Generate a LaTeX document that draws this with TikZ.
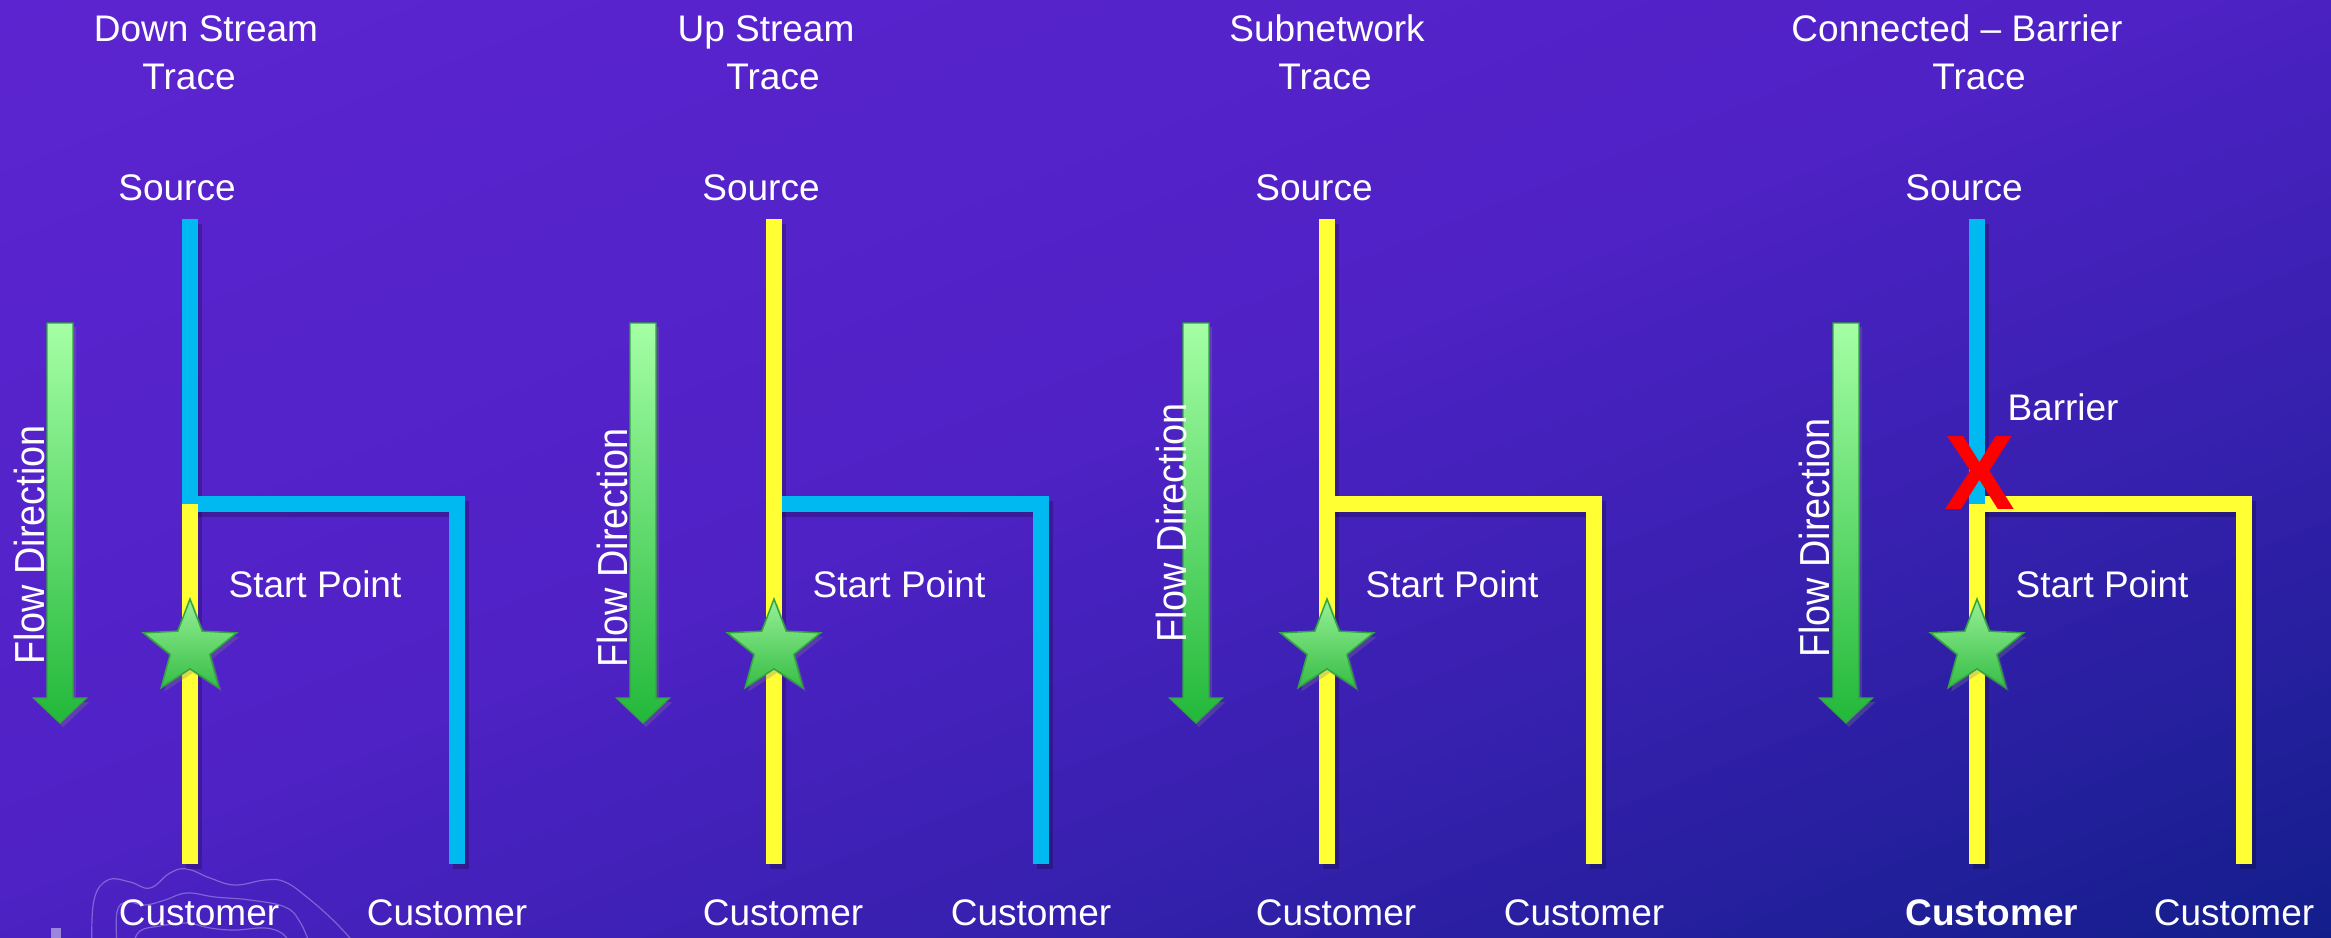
\documentclass[tikz,border=0pt]{standalone}
\usepackage{fontspec}
\usepackage{graphicx}
\setmainfont{Liberation Sans}
\usetikzlibrary{shapes.geometric,shadows}
\definecolor{bgA}{RGB}{92,36,208}
\definecolor{bgB}{RGB}{80,34,198}
\definecolor{bgC}{RGB}{55,32,175}
\definecolor{bgD}{RGB}{18,30,138}
\definecolor{lnblue}{RGB}{0,185,240}
\definecolor{lnyellow}{RGB}{255,255,51}
\definecolor{gtop}{RGB}{165,255,165}
\definecolor{gbot}{RGB}{34,184,58}
\definecolor{gedge}{RGB}{50,165,65}
\definecolor{stop}{RGB}{150,240,150}
\definecolor{sbot}{RGB}{55,190,70}
\newcommand{\bgseg}[5]{%
  \foreach \k in {1,...,#3}{%
    \pgfmathsetmacro{\ua}{#1+((\k-1)/#3)*(#2-#1)-1.5}%
    \pgfmathsetmacro{\ub}{#1+(\k/#3)*(#2-#1)+1.5}%
    \pgfmathtruncatemacro{\pc}{(\k-0.5)/#3*100}%
    \fill[#5!\pc!#4] ({\ua*0.375-2410},{\ua*0.927+975}) -- ({\ua*0.375+2410},{\ua*0.927-975}) -- ({\ub*0.375+2410},{\ub*0.927-975}) -- ({\ub*0.375-2410},{\ub*0.927+975}) -- cycle;
  }}
\tikzset{
  pipe/.style={line width=16pt, line join=miter, line cap=butt},
  pshadow/.style={line width=16pt, line join=miter, draw=black, opacity=.22, transform canvas={xshift=4pt, yshift=-5pt}},
  lbl/.style={text=white, font=\fontsize{37}{44}\selectfont, inner sep=0pt, anchor=base},
  flowtxt/.style={text=white, font=\fontsize{42}{44}\selectfont, inner sep=0pt, anchor=base, rotate=90},
  starnode/.style={star, star points=5, star point ratio=2.35, minimum size=98pt, inner sep=0pt,
    top color=stop, bottom color=sbot, draw=gedge, line width=1.5pt,
    drop shadow={opacity=.3, shadow xshift=3pt, shadow yshift=-4pt}},
  flowarrow/.style={top color=gtop, bottom color=gbot, draw=gedge, line width=1.2pt,
    drop shadow={opacity=.3, shadow xshift=3pt, shadow yshift=-4pt}},
  contour/.style={draw=white, opacity=.3, line width=1.2pt}
}
\begin{document}
\begin{tikzpicture}[x=1pt,y=-1pt]
\useasboundingbox (0,0) rectangle (2331,937);
% background
\begin{scope}
\clip (0,0) rectangle (2331,937);
\fill[bgA] (0,0) rectangle (2331,937);
\bgseg{0}{785}{24}{bgA}{bgB}
\bgseg{785}{1222}{16}{bgB}{bgC}
\bgseg{1222}{1760}{24}{bgC}{bgD}
% faint contour decoration
\draw[contour] plot[smooth, tension=0.7] coordinates {(92,945) (94,900) (108,880) (130,882) (150,888) (170,873) (187,869) (210,878) (235,885) (265,880) (285,882) (308,898) (335,922) (356,945)};
\draw[contour] plot[smooth, tension=0.7] coordinates {(117,945) (117,912) (127,902) (145,905) (165,900) (187,893) (215,897) (250,900) (285,907) (300,922) (310,945)};
\draw[contour] plot[smooth, tension=0.7] coordinates {(133,945) (140,931) (160,926) (187,923) (210,928) (235,930) (265,928) (283,934) (290,945)};
\fill[white, opacity=.45] (51,928) rectangle (61,940);
\end{scope}

% network lines
\foreach \n/\mx/\ctop/\cbot/\chr in {1/190/lnblue/lnyellow/lnblue, 2/774/lnyellow/lnyellow/lnblue, 3/1327/lnyellow/lnyellow/lnyellow, 4/1977/lnblue/lnyellow/lnyellow}{
  \pgfmathsetmacro{\rx}{\mx+267}
  \coordinate (top\n) at (\mx,219);
  \coordinate (jn\n) at (\mx,504);
  \coordinate (bot\n) at (\mx,864);
  \coordinate (rj\n) at (\rx,504);
  \coordinate (rb\n) at (\rx,864);
  \draw[pshadow] (jn\n) -- (rj\n) -- (rb\n);
  \draw[pshadow] (top\n) -- (bot\n);
  \draw[pipe, draw=\chr] (jn\n) -- (rj\n) -- (rb\n);
  \draw[pipe, draw=\cbot] (jn\n) -- (bot\n);
  \draw[pipe, draw=\ctop] (top\n) -- (jn\n);
  \node[starnode] (star\n) at (\mx,648) {};
}

% flow arrows
\foreach \n/\ax in {1/60,2/643,3/1196,4/1846}{
  \path[flowarrow] ({\ax-13},323) -- ({\ax-13},698) -- ({\ax-26.5},698) -- (\ax,723) -- ({\ax+26.5},698) -- ({\ax+13},698) -- ({\ax+13},323) -- cycle;
}
\foreach \n/\bx/\cy in {1/44/545, 2/627/548, 3/1186/523, 4/1829/538}{
  \node[flowtxt] (flow\n) at (\bx,\cy) {\scalebox{0.9}[1]{Flow Direction}};
}

% titles
\node[lbl] (t1a) at (206,41) {Down Stream};
\node[lbl] (t1b) at (189,89) {Trace};
\node[lbl] (t2a) at (766,41) {Up Stream};
\node[lbl] (t2b) at (773,89) {Trace};
\node[lbl] (t3a) at (1327,41) {Subnetwork};
\node[lbl] (t3b) at (1325,89) {Trace};
\node[lbl] (t4a) at (1957,41) {Connected – Barrier};
\node[lbl] (t4b) at (1979,89) {Trace};

% labels per panel
\foreach \n/\mx in {1/190,2/774,3/1327,4/1977}{
  \node[lbl] (src\n) at ({\mx-13},200) {Source};
  \node[lbl] (sp\n) at ({\mx+125},597) {Start Point};
  \node[lbl] (cr\n) at ({\mx+257},925) {Customer};
}
\foreach \n/\mx in {1/190,2/774,3/1327}{
  \node[lbl] (cl\n) at ({\mx+9},925) {Customer};
}
\node[lbl, font=\fontsize{37}{44}\bfseries\selectfont] (cl4) at (1992,925) {Customer};

% barrier
\node[lbl] (bar) at (2063,420) {Barrier};
\node[text=red, font=\fontsize{106}{106}\bfseries\selectfont, inner sep=0pt] (xmark) at (1980,473) {X};
\end{tikzpicture}
\end{document}
